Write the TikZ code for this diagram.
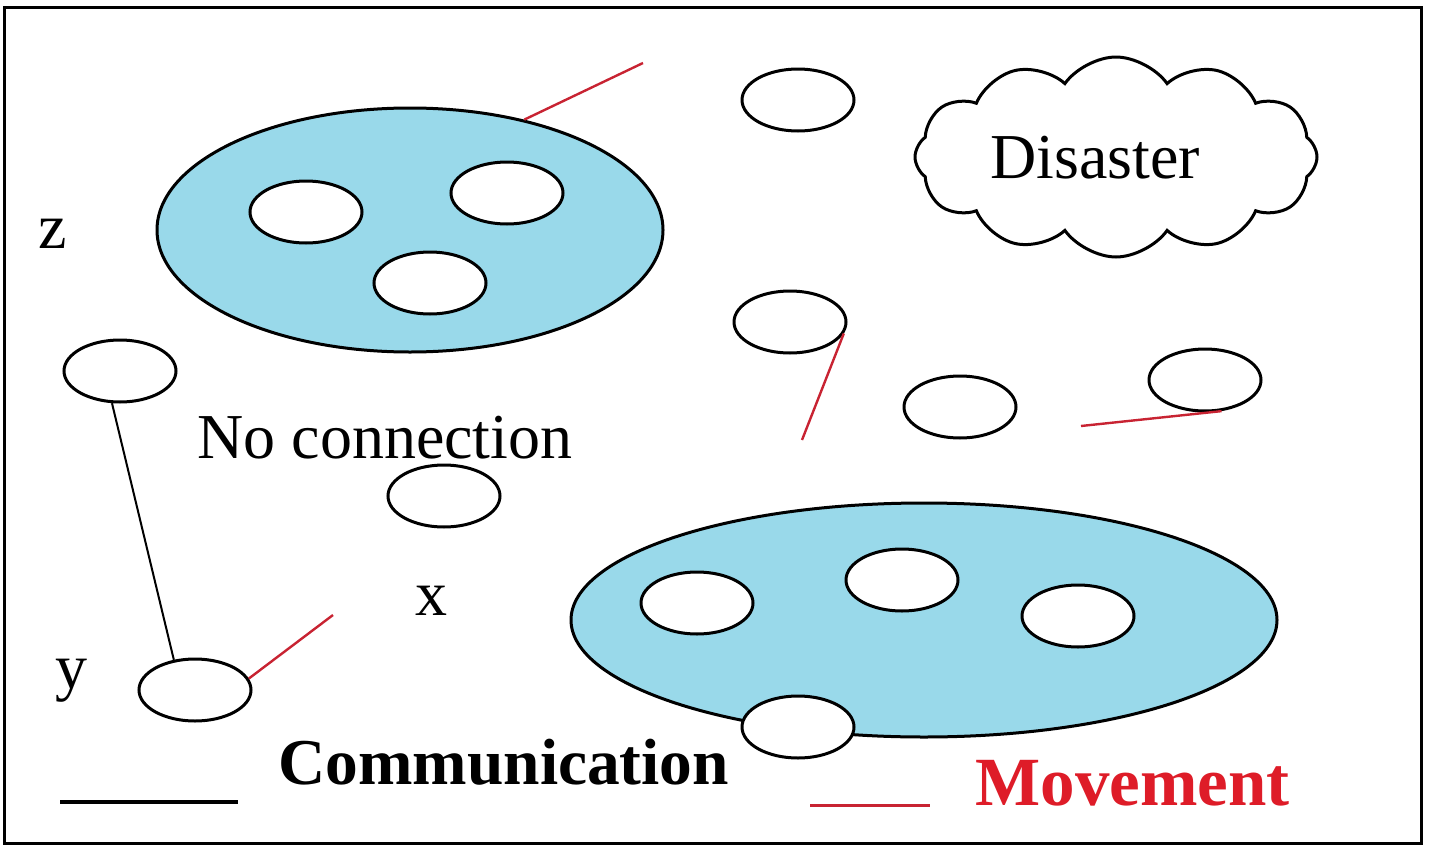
\documentclass[tikz,border=0pt]{standalone}
\usepackage{fontspec}
\setmainfont{Liberation Serif}
\usetikzlibrary{shapes.geometric,shapes.symbols}
\definecolor{blobblue}{RGB}{153,217,234}
\definecolor{movred}{RGB}{200,35,50}
\definecolor{movtext}{RGB}{222,28,40}
\begin{document}
\begin{tikzpicture}[x=0.5pt,y=-0.5pt,
  oval/.style={ellipse,draw,line width=1.5pt,fill=white,inner sep=0pt,minimum width=56pt,minimum height=31pt},
  blob/.style={ellipse,draw,line width=1.5pt,fill=blobblue,inner sep=0pt},
  lbl/.style={font=\fontsize{32}{36}\selectfont,inner sep=0pt,anchor=base west},
  move/.style={draw=movred,line width=1.2pt},
  comm/.style={draw=black,line width=1pt}]
\useasboundingbox (0,0) rectangle (1430,846);
\draw[line width=1.5pt] (4,7) rectangle (1421,843);

% top-left group
\node[blob,minimum width=253pt,minimum height=122pt] (blob1) at (410,230) {};
\node[oval] (a1) at (306,212) {};
\node[oval] (a2) at (507,193) {};
\node[oval] (a3) at (430,283) {};

% bottom-right group
\node[blob,minimum width=353pt,minimum height=117pt] (blob2) at (924,620) {};
\node[oval] (b1) at (697,603) {};
\node[oval] (b2) at (902,580) {};
\node[oval] (b3) at (1078,616) {};
\node[oval] (b4) at (798,727) {};

% single nodes
\node[oval] (s1) at (798,100) {};
\node[oval] (s2) at (120,371) {};
\node[oval] (s3) at (195,690) {};
\node[oval] (s4) at (444,496) {};
\node[oval] (s5) at (790,322) {};
\node[oval] (s6) at (960,407) {};
\node[oval] (s7) at (1205,380) {};

% cloud
\node[cloud,draw,line width=1.5pt,cloud puffs=12,cloud puff arc=110,aspect=2,
      minimum width=201pt,minimum height=100pt,inner sep=0pt] (cl) at (1116,157) {};
\node[lbl] (dis) at (990,178) {Disaster};

% labels
\node[lbl] (lz) at (38,248) {z};
\node[lbl] (ly) at (55,688) {y};
\node[lbl] (lx) at (415,615) {x};
\node[lbl] (nc) at (197,458) {No connection};
\node[lbl,font=\fontsize{32.7}{36}\selectfont\bfseries] (co) at (278,784) {Communication};
\node[lbl,font=\fontsize{34.5}{38}\selectfont\bfseries,text=movtext] (mv) at (975,805) {Movement};

% communication link
\draw[comm] (s2.-104) -- (s3.125);

% movement traces
\coordinate (m1) at (643,63);
\draw[move] (blob1.44) -- (m1);
\coordinate (m2) at (333,615);
\draw[move] (s3.12) -- (m2);
\coordinate (m3) at (802,440);
\draw[move] (s5.-12) -- (m3);
\coordinate (m4) at (1081,426);
\draw[move] (m4) -- (s7.-62);

% legend
\coordinate (lc1) at (60,802);
\coordinate (lc2) at (238,802);
\draw[line width=2pt] (lc1) -- (lc2);
\coordinate (lm1) at (810,805);
\coordinate (lm2) at (930,805);
\draw[move,line width=1.5pt] (lm1) -- (lm2);
\end{tikzpicture}
\end{document}
